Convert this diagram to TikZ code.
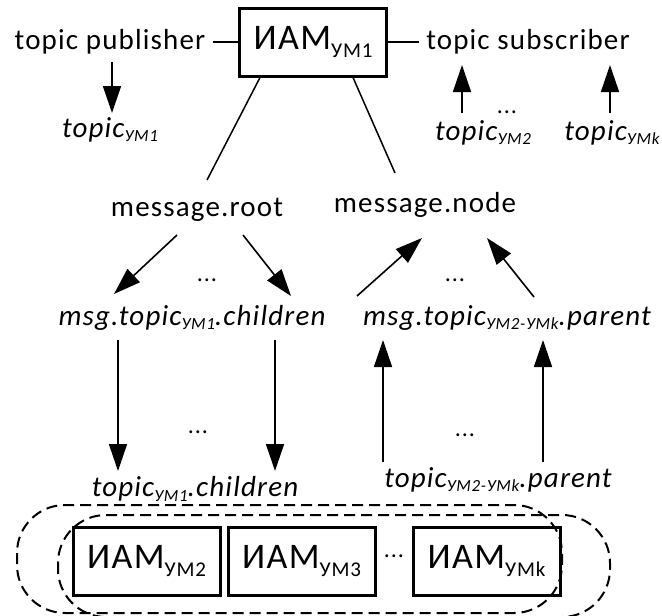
\documentclass[tikz,border=0pt]{standalone}
\usepackage{fontspec}
\setmainfont{Carlito}[LetterSpace=4]
\usetikzlibrary{
    arrows.meta,
    calc,
    positioning,
}

\newcommand{\iamsub}[1]{\raisebox{-0.2em}{\fontsize{21}{21}\selectfont #1}}
\newcommand{\tsub}[1]{\raisebox{-0.15em}{\fontsize{17}{17}\selectfont #1}}

\begin{document}
\begin{tikzpicture}[x=1pt,y=-1pt,>={Triangle[length=27pt,width=18pt]}]

    \tikzstyle{commonNode}=[inner sep=0pt, font=\fontsize{29}{32}\selectfont]
    \tikzstyle{topicText}=[commonNode, font=\fontsize{29}{32}\selectfont\itshape]
    \tikzstyle{dotsText}=[commonNode, font=\fontsize{24}{24}\selectfont]
    \tikzstyle{iam}=[draw=black, line width=3pt, inner sep=0pt, minimum width=147pt, minimum height=68pt, font=\fontsize{36}{40}\selectfont]
    \tikzstyle{post}=[->, line width=1.6pt]
    \tikzstyle{tie}=[line width=1.5pt]
    \tikzstyle{groupLine}=[line width=2pt, dash pattern=on 11pt off 6pt, rounded corners=48pt]

    \useasboundingbox (0,0) rectangle (662,616);

    % Top level
    \node at (313,42)  [iam]        (iam1) {ИАМ\iamsub{УМ1}};
    \node at (110,42)  [commonNode] (pub)  {topic publisher};
    \node at (528,42)  [commonNode] (sub)  {topic subscriber};
    \node at (110,130) [topicText]  (tp1)  {topic\tsub{УМ1}};
    \node at (483,133) [topicText]  (tp2)  {topic\tsub{УМ2}};
    \node at (612,133) [topicText]  (tpk)  {topic\tsub{УМk}};
    \node at (507,112) [dotsText]   (dt0)  {...};

    \draw[tie, shorten <=7pt] (pub.east) -- (iam1.west);
    \draw[tie, shorten >=7pt] (iam1.east) -- (sub.west);
    \draw[post] ($(pub)+(2,20)$) -- ($(tp1)+(2,-17)$);
    \draw[post] ($(tp2)+(-21,-20)$) -- ($(sub)+(-66,23)$);
    \draw[post] ($(tpk)+(-2,-20)$) -- ($(sub)+(82,23)$);

    % Messages
    \node at (197,210) [commonNode] (root) {message.root};
    \node at (425,205) [commonNode] (mnode) {message.node};
    \node at (192,318) [topicText]  (msg1) {msg.topic\tsub{УМ1}.children};
    \node at (507,318) [topicText]  (msg2) {msg.topic\tsub{УМ2-УМk}.parent};
    \node at (207,280) [dotsText]   (dt1)  {...};
    \node at (455,280) [dotsText]   (dt2)  {...};

    \draw[tie] ($(iam1.south)+(-53,0)$) -- ($(root)+(10,-30)$);
    \draw[tie] ($(iam1.south)+(40,0)$) -- ($(mnode)+(-30,-32)$);
    \draw[post] ($(root)+(-20,25)$) -- ($(msg1)+(-78,-24)$);
    \draw[post] ($(root)+(46,25)$) -- ($(msg1)+(99,-22)$);
    \draw[post] ($(msg2)+(-150,-22)$) -- ($(mnode)+(-3,33)$);
    \draw[post] ($(msg2)+(27,-21)$) -- ($(mnode)+(62,33)$);

    % Topics of the lower modules
    \node at (195,489) [topicText] (ch)  {topic\tsub{УМ1}.children};
    \node at (498,480) [topicText] (par) {topic\tsub{УМ2-УМk}.parent};
    \node at (198,432) [dotsText]  (dt3) {...};
    \node at (465,435) [dotsText]  (dt4) {...};

    \draw[post] ($(msg1)+(-74,22)$) -- ($(ch)+(-77,-18)$);
    \draw[post] ($(msg1)+(83,22)$) -- ($(ch)+(80,-18)$);
    \draw[post] ($(par)+(-115,-18)$) -- ($(msg2)+(-124,22)$);
    \draw[post] ($(par)+(45,-18)$) -- ($(msg2)+(36,22)$);

    % Lower modules
    \node at (146.5,561) [iam] (iam2) {ИАМ\iamsub{УМ2}};
    \node at (301.5,561) [iam] (iam3) {ИАМ\iamsub{УМ3}};
    \node at (486.5,561) [iam] (iamk) {ИАМ\iamsub{УМk}};
    \node at (394,556)   [dotsText] (dt5) {...};

    \draw[groupLine] (17,505) rectangle (562,613);
    \draw[groupLine] (58,515) rectangle (610,617);
\end{tikzpicture}
\end{document}
